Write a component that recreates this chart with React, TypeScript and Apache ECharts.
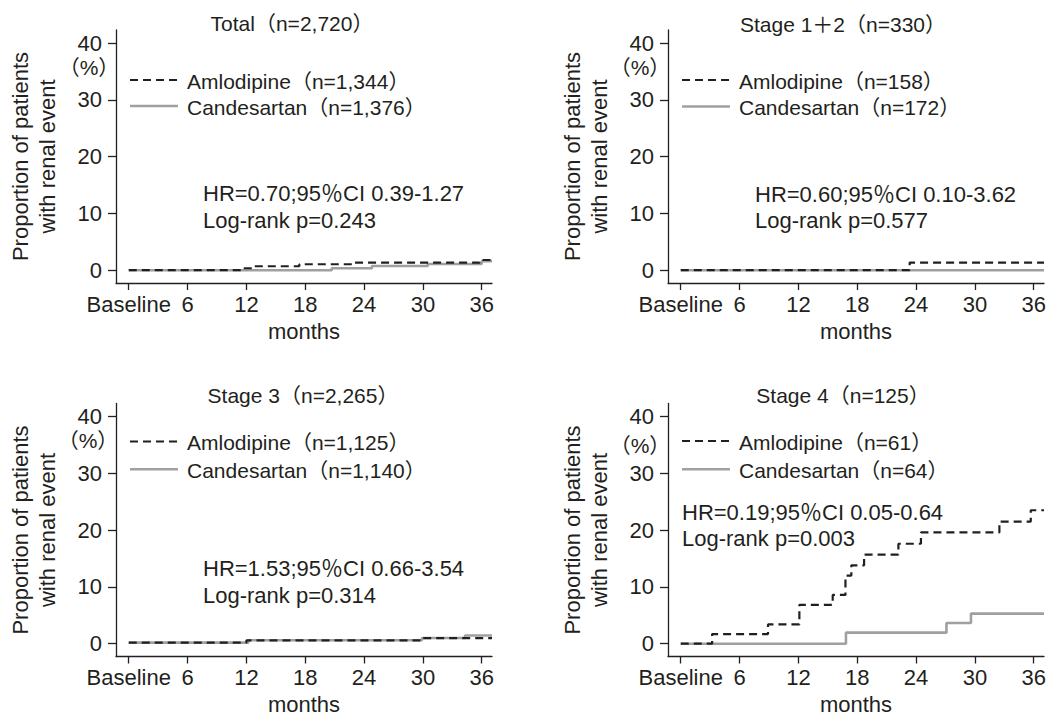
import React, { useEffect, useRef } from "react";
import * as echarts from "echarts";

// ---------- data ----------
const monthTicks = [0, 6, 12, 18, 24, 30, 36];
const pctTicks = [0, 10, 20, 30, 40];

const panelTitles = ["Total（n=2,720）", "Stage 1＋2（n=330）", "Stage 3（n=2,265）", "Stage 4（n=125）"];
const amlodipineNames = ["Amlodipine（n=1,344）", "Amlodipine（n=158）", "Amlodipine（n=1,125）", "Amlodipine（n=61）"];
const candesartanNames = ["Candesartan（n=1,376）", "Candesartan（n=172）", "Candesartan（n=1,140）", "Candesartan（n=64）"];
const hrTexts = [
  "HR=0.70;95％CI 0.39-1.27",
  "HR=0.60;95％CI 0.10-3.62",
  "HR=1.53;95％CI 0.66-3.54",
  "HR=0.19;95％CI 0.05-0.64",
];
const logRankTexts = ["Log-rank p=0.243", "Log-rank p=0.577", "Log-rank p=0.314", "Log-rank p=0.003"];

// [month, cumulative %]
const totalAmlodipine = [[0, 0], [11.5, 0.35], [12.6, 0.7], [17.4, 1.05], [22.9, 1.35], [35.8, 1.8], [37.05, 1.8]];
const totalCandesartan = [[0, 0], [20.7, 0.35], [24.8, 0.75], [30.5, 1.1], [36, 1.6], [37.05, 1.6]];
const stage12Amlodipine = [[0, 0], [23.35, 1.35], [37.05, 1.35]];
const stage12Candesartan = [[0, 0], [37.05, 0]];
const stage3Amlodipine = [[0, 0.2], [12, 0.6], [29.9, 1.0], [37.05, 1.0]];
const stage3Candesartan = [[0, 0.2], [12.2, 0.6], [29.9, 1.0], [34.3, 1.45], [37.05, 1.45]];
const stage4Amlodipine = [
  [0, 0], [3.2, 1.7], [8.9, 3.4], [12.1, 6.85], [15.5, 8.6], [16.8, 12.0], [17.4, 13.8],
  [18.7, 15.7], [22.2, 17.6], [24.5, 19.6], [32.5, 21.5], [35.7, 23.5], [37.05, 23.5],
];
const stage4Candesartan = [[0, 0], [16.85, 1.95], [27.1, 3.65], [29.6, 5.3], [37.05, 5.3]];

const amlodipineSeries = [totalAmlodipine, stage12Amlodipine, stage3Amlodipine, stage4Amlodipine];
const candesartanSeries = [totalCandesartan, stage12Candesartan, stage3Candesartan, stage4Candesartan];

// ---------- layout / style ----------
const INK = "#231f20";
const GRAY = "#a0a0a0";
const FONT = "'Liberation Sans', 'Noto Sans CJK JP', Arial, sans-serif";
const FS = 21;
const FS_L = 22;
const GRID_W = 376;
const GRID_H = 253;

const layout = [
  { left: 116, top: 30, title: [292, 23], pct: [89, 67], leg: [130, 80, 106], hr: [203, 193], lr: [203, 220] },
  { left: 668, top: 30, title: [843, 24], pct: [640, 67], leg: [682, 80, 106.5], hr: [755, 194], lr: [755, 220] },
  { left: 116, top: 403.5, title: [303, 395], pct: [88, 440], leg: [130, 441.5, 469.3], hr: [203, 568], lr: [203, 595] },
  { left: 668, top: 403.5, title: [843, 395], pct: [640, 445], leg: [682, 441, 469.3], hr: [682, 512], lr: [682, 538] },
];

function buildOption() {
  const txt = (text: string, x: number, y: number, align = "left", size = FS) => ({
    type: "text",
    x,
    y,
    silent: true,
    style: { text, fill: INK, fontSize: size, fontFamily: FONT, align, verticalAlign: "middle" },
  });

  const graphic: any[] = [];
  layout.forEach((L, i) => {
    graphic.push(txt(panelTitles[i], L.title[0], L.title[1], "center"));
    graphic.push(txt("（%）", L.pct[0], L.pct[1], "center"));
    graphic.push({
      type: "line",
      silent: true,
      shape: { x1: L.leg[0], y1: L.leg[1], x2: L.leg[0] + 48, y2: L.leg[1] },
      style: { stroke: INK, lineWidth: 2.2, lineDash: [8, 5] },
    });
    graphic.push({
      type: "line",
      silent: true,
      shape: { x1: L.leg[0], y1: L.leg[2], x2: L.leg[0] + 48, y2: L.leg[2] },
      style: { stroke: GRAY, lineWidth: 2.6 },
    });
    graphic.push(txt(amlodipineNames[i], L.leg[0] + 57, L.leg[1] + 1));
    graphic.push(txt(candesartanNames[i], L.leg[0] + 57, L.leg[2] + 1));
    graphic.push(txt(hrTexts[i], L.hr[0], L.hr[1], "left", FS_L));
    graphic.push(txt(logRankTexts[i], L.lr[0], L.lr[1], "left", FS_L));
  });

  const labelStyle = { fontSize: FS_L, color: INK, fontFamily: FONT };

  return {
    animation: false,
    backgroundColor: "#ffffff",
    grid: layout.map((L) => ({ left: L.left, top: L.top, width: GRID_W, height: GRID_H })),
    xAxis: layout.map((_, i) => ({
      gridIndex: i,
      type: "value",
      min: -1.3,
      max: 37.05,
      axisLine: { show: true, onZero: false, lineStyle: { color: INK, width: 1.3 } },
      axisTick: { show: true, customValues: monthTicks, length: 7, lineStyle: { color: INK, width: 1.3 } },
      axisLabel: {
        ...labelStyle,
        customValues: monthTicks,
        margin: 10,
        formatter: (v: number) => (v === 0 ? "Baseline" : String(v)),
      },
      splitLine: { show: false },
      name: "months",
      nameLocation: "middle",
      nameGap: 37,
      nameTextStyle: labelStyle,
    })),
    yAxis: layout.map((_, i) => ({
      gridIndex: i,
      type: "value",
      min: -2.25,
      max: 42.3,
      axisLine: { show: true, onZero: false, lineStyle: { color: INK, width: 1.3 } },
      axisTick: { show: true, customValues: pctTicks, length: 8, lineStyle: { color: INK, width: 1.3 } },
      axisLabel: { ...labelStyle, customValues: pctTicks, margin: 14 },
      splitLine: { show: false },
      name: "Proportion of patients\nwith renal event",
      nameLocation: "middle",
      nameRotate: 90,
      nameGap: 55,
      nameTextStyle: { ...labelStyle, lineHeight: 27, align: "center" },
    })),
    series: layout.flatMap((_, i) => [
      {
        type: "line",
        name: candesartanNames[i],
        xAxisIndex: i,
        yAxisIndex: i,
        data: candesartanSeries[i],
        step: "end",
        symbol: "none",
        silent: true,
        lineStyle: { color: GRAY, width: 2.6 },
        itemStyle: { color: GRAY },
        z: 2,
      },
      {
        type: "line",
        name: amlodipineNames[i],
        xAxisIndex: i,
        yAxisIndex: i,
        data: amlodipineSeries[i],
        step: "end",
        symbol: "none",
        silent: true,
        lineStyle: { color: INK, width: 2.2, type: [8, 5] },
        itemStyle: { color: INK },
        z: 3,
      },
    ]),
    graphic,
  };
}

export default function App() {
  const ref = useRef<HTMLDivElement>(null);
  useEffect(() => {
    if (!ref.current) return;
    const chart = echarts.init(ref.current, undefined, { renderer: "svg" });
    chart.setOption(buildOption() as any);
    return () => chart.dispose();
  }, []);
  return (
    <div
      ref={ref}
      style={{ position: "absolute", left: 0, top: 0, width: 1050, height: 717, background: "#fff" }}
    />
  );
}
